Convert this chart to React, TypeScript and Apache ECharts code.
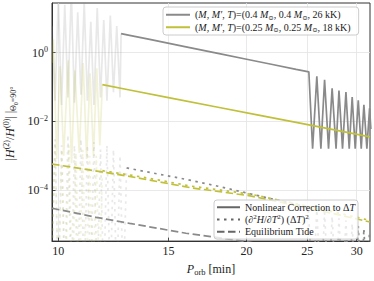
import React, { useEffect, useRef } from 'react';
import * as echarts from 'echarts';

const SERIF = 'Liberation Serif, DejaVu Serif, serif';
const GRAY = '#8a8a8a';
const OLIVE = '#c0c03a';
const KEY = '#666666';

const seriesNameA = '(M, M′, T)=(0.4 M⊙, 0.4 M⊙, 26 kK)';
const seriesNameB = '(M, M′, T)=(0.25 M⊙, 0.25 M⊙, 18 kK)';
const styleNames = ['Nonlinear Correction to ΔT', '(∂²H/∂T²) (ΔT)²', 'Equilibrium Tide'];

const xTickValues = [10, 15, 20, 25, 30];
const yTickValues = [1e-4, 1e-2, 1];

// gray model (0.4 Msun, 26 kK): nonlinear correction, full opacity part
const grayNonlinear: [number, number][] = [
  [12.6, 3.59], [13, 3.2], [14, 2.43], [16, 1.48], [18, 0.953], [20, 0.644], [22, 0.452], [24, 0.327], [25.15, 0.277],
  [25.5, 0.0016], [25.9, 0.204], [26.29, 0.0016], [26.65, 0.162], [27.04, 0.0016], [27.4, 0.091], [27.8, 0.0016],
  [28.1, 0.0785], [28.47, 0.0016], [28.83, 0.0708], [29.18, 0.0016], [29.5, 0.0507], [29.83, 0.0016], [30.17, 0.0407],
  [30.5, 0.0016], [30.8, 0.0302], [31.14, 0.0016], [31.45, 0.024], [31.6, 0.006],
];
// gray model: faint part before onset
const grayNonlinearEarly: [number, number][] = [
  [9.77, 6], [9.88, 0.04], [10.0, 40], [10.12, 0.03], [10.24, 25], [10.36, 0.05], [10.49, 60], [10.61, 0.035],
  [10.74, 15], [10.87, 0.06], [11.0, 30], [11.13, 0.04], [11.27, 8], [11.4, 0.03], [11.54, 20], [11.68, 0.05],
  [11.82, 9], [11.96, 0.04], [12.11, 12], [12.25, 0.07], [12.4, 6], [12.55, 0.05], [12.6, 3.59],
];
const graySecond: [number, number][] = [
  [12.86, 4.4e-4], [14, 3.26e-4], [16.05, 2.02e-4], [18, 1.29e-4], [19.9, 8.36e-5], [22.5, 5.0e-5], [25.1, 3.16e-5],
  [25.5, 1e-7], [25.9, 2.6e-5], [26.29, 1e-7], [26.65, 2.2e-5], [27.04, 1e-7], [27.4, 1.7e-5], [27.8, 1e-7],
  [28.1, 1.5e-5], [28.47, 1e-7], [28.83, 1.3e-5], [29.18, 1e-7], [29.5, 1.05e-5], [29.83, 1e-7], [30.17, 9e-6],
  [30.5, 1e-7], [30.8, 7.5e-6], [31.14, 1e-7], [31.45, 6.5e-6],
];
const graySecondEarly: [number, number][] = [
  [9.77, 1e-6], [9.88, 3e-3], [10.0, 1e-7], [10.12, 2e-3], [10.24, 1e-7], [10.36, 4e-3], [10.49, 1e-7], [10.61, 2e-3],
  [10.74, 1e-7], [10.87, 3e-3], [11.0, 1e-7], [11.13, 2e-3], [11.27, 1e-7], [11.4, 2.5e-3], [11.54, 1e-7],
  [11.68, 1.5e-3], [11.82, 1e-7], [11.96, 2e-3], [12.11, 1e-7], [12.25, 1.5e-3], [12.4, 1e-7], [12.55, 1e-3],
  [12.7, 1e-7], [12.86, 4.4e-4],
];
const grayTidal: [number, number][] = [
  [9.77, 2.95e-5], [11.5, 1.6e-5], [13, 1.07e-5], [16, 5.5e-6], [19.75, 3.24e-6], [22, 2.3e-6], [25, 1.4e-6], [31.5, 6e-7],
];

// olive model (0.25 Msun, 18 kK)
const oliveNonlinear: [number, number][] = [
  [11.76, 0.117], [13, 0.082], [15, 0.0493], [18, 0.0258], [21, 0.0149], [24, 0.00929], [27, 0.00612], [31.5, 0.00354],
];
const oliveNonlinearEarly: [number, number][] = [
  [9.77, 0.5], [9.82, 2.4], [9.94, 8e-4], [10.06, 0.4], [10.2, 1e-3], [10.37, 0.6], [10.5, 6e-4], [10.63, 0.3],
  [10.8, 1.2e-3], [10.96, 0.5], [11.1, 8e-4], [11.24, 0.25], [11.38, 1e-3], [11.52, 0.35], [11.65, 2e-3], [11.76, 0.117],
];
const oliveSecond: [number, number][] = [
  [11.76, 3.65e-4], [13, 2.75e-4], [14.5, 1.93e-4], [16.25, 1.31e-4], [18, 1.02e-4], [20.27, 7.6e-5], [22.5, 5.1e-5],
  [25, 3.4e-5], [28, 2.15e-5], [31.5, 1.3e-5],
];
const oliveSecondEarly: [number, number][] = [
  [9.77, 1e-6], [9.88, 2e-3], [10.0, 1e-7], [10.13, 1.5e-3], [10.26, 1e-7], [10.4, 2e-3], [10.53, 1e-7], [10.67, 1.2e-3],
  [10.8, 1e-7], [10.94, 1.5e-3], [11.08, 1e-7], [11.22, 1e-3], [11.36, 1e-7], [11.5, 1e-3], [11.63, 1e-7], [11.76, 3.65e-4],
];
const oliveTidal: [number, number][] = [
  [9.77, 5.71e-4], [11, 4.06e-4], [12.87, 2.57e-4], [14.5, 1.72e-4], [16.25, 1.17e-4], [18, 9.1e-5], [20.27, 6.76e-5],
  [22.5, 4.54e-5], [25, 3.0e-5], [28, 1.92e-5], [31.5, 1.17e-5],
];

const DOT = [2.5, 4.5];
const DASH = [7.5, 3.5];
const LW = 1.7;

const legendRich = {
  i: { fontStyle: 'italic', fontFamily: SERIF, fontSize: 10, lineHeight: 11.5 },
  n: { fontFamily: SERIF, fontSize: 10, lineHeight: 11.5 },
  sub: { fontFamily: SERIF, fontSize: 6.5, lineHeight: 7, verticalAlign: 'bottom' },
  sup: { fontFamily: SERIF, fontSize: 7, lineHeight: 7, verticalAlign: 'top' },
};

const legendLabels: Record<string, string> = {
  [seriesNameA]: '({i|M}, {i|M′}, {i|T})=(0.4 {i|M}{sub|⊙}, 0.4 {i|M}{sub|⊙}, 26 kK)',
  [seriesNameB]: '({i|M}, {i|M′}, {i|T})=(0.25 {i|M}{sub|⊙}, 0.25 {i|M}{sub|⊙}, 18 kK)',
  [styleNames[0]]: 'Nonlinear Correction to Δ{i|T}',
  [styleNames[1]]: '(∂{sup|2}{i|H}/∂{i|T}{sup|2}) (Δ{i|T}){sup|2}',
  [styleNames[2]]: 'Equilibrium Tide',
};

function line(name: string, data: [number, number][], color: string, type: any, opacity: number, z: number) {
  return {
    type: 'line',
    name,
    data,
    symbol: 'none',
    showSymbol: false,
    clip: true,
    silent: true,
    color,
    z,
    lineStyle: { color, width: LW, type, opacity },
  };
}

export default function App() {
  const ref = useRef<HTMLDivElement>(null);
  useEffect(() => {
    document.body.style.margin = '0';
    if (!ref.current) return;
    const chart = echarts.init(ref.current, undefined, { renderer: 'svg' });
    const legendBase = {
      orient: 'vertical',
      selectedMode: false,
      itemWidth: 24,
      itemHeight: 11.5,
      itemGap: 1,
      backgroundColor: 'rgba(255,255,255,0.8)',
      borderColor: '#cccccc',
      borderWidth: 1,
      borderRadius: 3,
      itemStyle: { opacity: 0 },
      textStyle: { fontFamily: SERIF, fontSize: 10, lineHeight: 11.5, color: '#1a1a1a', rich: legendRich },
      formatter: (n: string) => legendLabels[n] ?? n,
    };
    const option: any = {
      animation: false,
      textStyle: { fontFamily: SERIF },
      grid: { left: 52, right: 4, top: 3, bottom: 37, show: true, borderColor: '#333', borderWidth: 1 },
      xAxis: {
        type: 'log',
        logBase: 10,
        min: 9.77,
        max: 31.5,
        axisLine: { show: true, lineStyle: { color: '#333', width: 1 } },
        axisTick: { show: true, inside: true, length: 3.5, customValues: xTickValues, lineStyle: { color: '#222', width: 0.8 } },
        axisLabel: {
          customValues: xTickValues,
          margin: 4,
          fontFamily: SERIF,
          fontSize: 12,
          color: '#222',
          formatter: (v: number) => String(Math.round(v)),
        },
        splitLine: { show: true, lineStyle: { color: '#e3e3e3', width: 0.8 } },
        name: '{i|P}{sub|orb} [min]',
        nameLocation: 'middle',
        nameGap: 15,
        nameTextStyle: {
          fontFamily: SERIF,
          fontSize: 12,
          lineHeight: 14,
          color: '#222',
          rich: {
            i: { fontStyle: 'italic', fontFamily: SERIF, fontSize: 12, lineHeight: 14 },
            sub: { fontFamily: SERIF, fontSize: 8.5, lineHeight: 9, verticalAlign: 'bottom' },
          },
        },
      },
      yAxis: {
        type: 'log',
        logBase: 10,
        min: 3.25e-6,
        max: 28,
        axisLine: { show: true, lineStyle: { color: '#333', width: 1 } },
        axisTick: { show: true, inside: true, length: 3.5, customValues: yTickValues, lineStyle: { color: '#222', width: 0.8 } },
        axisLabel: {
          customValues: yTickValues,
          margin: 4,
          fontFamily: SERIF,
          fontSize: 12,
          color: '#222',
          formatter: (v: number) => {
            const e = Math.round(Math.log10(v));
            return e === 0 ? '{b|10}{s|0}' : '{b|10}{s|−' + -e + '}';
          },
          rich: {
            b: { fontFamily: SERIF, fontSize: 12, lineHeight: 14 },
            s: { fontFamily: SERIF, fontSize: 8, lineHeight: 8, verticalAlign: 'top' },
          },
        },
        splitLine: { show: true, lineStyle: { color: '#e3e3e3', width: 0.8 } },
      },
      legend: [
        { ...legendBase, data: [seriesNameA, seriesNameB], left: 163, top: 7, padding: [2, 8, 2, 2] },
        {
          ...legendBase,
          data: styleNames,
          left: 214,
          top: 200,
          padding: [1.5, 3, 1.5, 2],
          itemWidth: 23,
          itemGap: 0.8,
          itemHeight: 11.3,
        },
      ],
      graphic: [
        {
          type: 'text',
          x: 10,
          y: 123.5,
          rotation: Math.PI / 2,
          style: {
            text: '|{i|H}{sup|(2)}/{i|H}{sup|(0)}| |{sub|Θ₀=90°}',
            fontFamily: SERIF,
            fontSize: 12,
            lineHeight: 15,
            fill: '#222',
            align: 'center',
            verticalAlign: 'middle',
            rich: {
              i: { fontStyle: 'italic', fontFamily: SERIF, fontSize: 12, lineHeight: 15 },
              sup: { fontFamily: SERIF, fontSize: 8, lineHeight: 8, verticalAlign: 'top' },
              sub: { fontFamily: SERIF, fontSize: 8, lineHeight: 8, verticalAlign: 'bottom' },
            },
          },
        },
      ],
      series: [
        line('gray-nonlinear-early', grayNonlinearEarly, GRAY, 'solid', 0.2, 1),
        line('olive-nonlinear-early', oliveNonlinearEarly, OLIVE, 'solid', 0.2, 1),
        line('gray-second-early', graySecondEarly, GRAY, DOT, 0.2, 1),
        line('olive-second-early', oliveSecondEarly, OLIVE, DOT, 0.2, 1),
        line('gray-tidal', grayTidal, GRAY, DASH, 1, 2),
        line('olive-tidal', oliveTidal, OLIVE, DASH, 1, 2),
        line('gray-second', graySecond, GRAY, DOT, 1, 2),
        line('olive-second', oliveSecond, OLIVE, DOT, 1, 2),
        line(seriesNameA, grayNonlinear, GRAY, 'solid', 1, 3),
        line(seriesNameB, oliveNonlinear, OLIVE, 'solid', 1, 3),
        line(styleNames[0], [], KEY, 'solid', 1, 3),
        line(styleNames[1], [], KEY, DOT, 1, 3),
        line(styleNames[2], [], KEY, DASH, 1, 3),
      ],
    };
    chart.setOption(option);
    return () => chart.dispose();
  }, []);
  return <div ref={ref} style={{ width: 374, height: 281 }} />;
}
